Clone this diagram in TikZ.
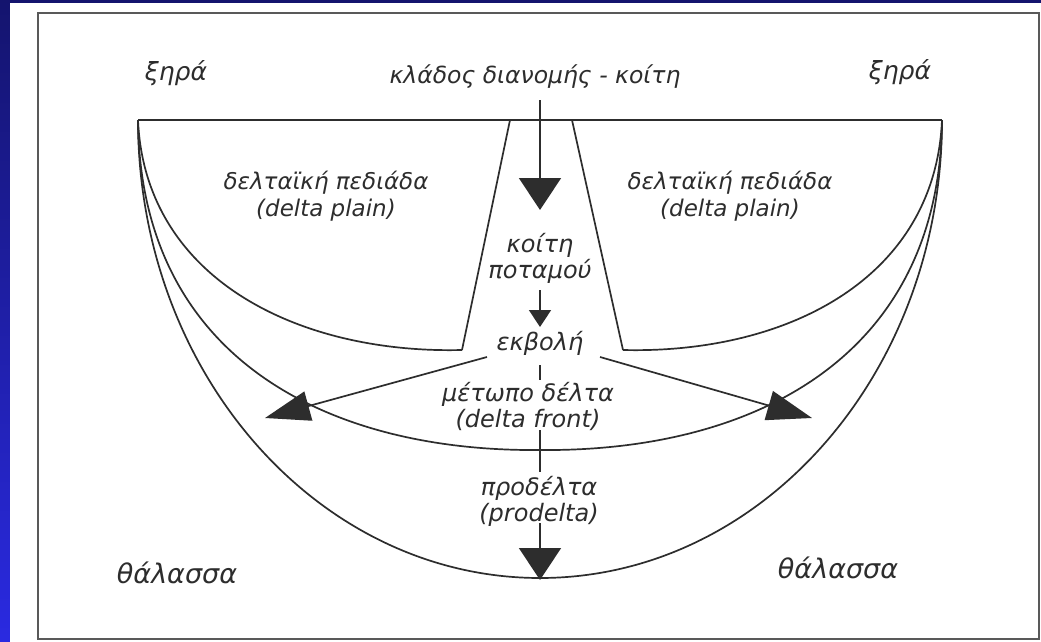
\documentclass[tikz,border=0pt]{standalone}
\usepackage{fontspec}
\setmainfont{DejaVu Sans}
\usetikzlibrary{arrows.meta}
\definecolor{navy}{RGB}{20,20,110}
\definecolor{brightblue}{RGB}{42,42,225}
\definecolor{ink}{RGB}{45,45,45}
\begin{document}
\begin{tikzpicture}[x=1pt,y=-1pt,
  lbl/.style={font=\itshape\fontsize{24}{26}\selectfont, text=ink, inner sep=0pt, align=center},
  ln/.style={draw=ink, line width=1.7pt},
  bigtip/.style={ln, -{Triangle[length=32pt,width=42pt]}},
  smalltip/.style={ln, -{Triangle[length=17pt,width=22pt]}},
  sidetip/.style={ln, -{Triangle[length=45pt,width=30pt]}}
]
\useasboundingbox (0,0) rectangle (1041,642);
% background
\shade[top color=navy, bottom color=brightblue] (0,0) rectangle (1041,642);
\fill[white] (10,3) rectangle (1041,642);
\draw[line width=2pt, draw=black!65] (38,13) rectangle (1039,639);

% coordinates of the figure
\coordinate (cl) at (138,120);
\coordinate (cr) at (942,120);
\coordinate (chl) at (510,120);
\coordinate (chr) at (572,120);
\coordinate (bl) at (462,350);
\coordinate (br) at (623,350);

% outlines
\draw[ln] (cl) -- (cr);
\draw[ln] (chl) -- (bl);
\draw[ln] (chr) -- (br);
\draw[ln] (cl) .. controls (145,280) and (300,354) .. (bl);
\draw[ln] (br) .. controls (785,354) and (935,280) .. (cr);
\draw[ln] (cl) .. controls (140,360) and (330,452) .. (540,450)
               .. controls (750,452) and (940,360) .. (cr);
\draw[ln] (cl) .. controls (138,373) and (318,578) .. (540,578)
               .. controls (762,578) and (942,373) .. (cr);

% labels
\node[lbl, font=\itshape\fontsize{25}{26}\selectfont] (xira1) at (176,73) {ξηρά};
\node[lbl, font=\itshape\fontsize{25}{26}\selectfont] (xira2) at (900,72) {ξηρά};
\node[lbl, font=\itshape\fontsize{23.5}{26}\selectfont] (top) at (535,77) {κλάδος διανομής - κοίτη};
\node[lbl, font=\itshape\fontsize{23}{27}\selectfont] (plainL) at (326,196) {δελταϊκή πεδιάδα\\(delta plain)};
\node[lbl, font=\itshape\fontsize{23}{27}\selectfont] (plainR) at (730,196) {δελταϊκή πεδιάδα\\(delta plain)};
\node[lbl] (koiti) at (540,258) {κοίτη\\ποταμού};
\node[lbl] (ekvoli) at (540,343) {εκβολή};
\node[lbl] (front) at (528,406) {μέτωπο δέλτα\\(delta front)};
\node[lbl] (prodelta) at (539,501) {προδέλτα\\(prodelta)};
\node[lbl, font=\itshape\fontsize{27}{28}\selectfont] (thal1) at (177,573) {θάλασσα};
\node[lbl, font=\itshape\fontsize{27}{28}\selectfont] (thal2) at (838,568) {θάλασσα};

% arrows
\coordinate (t1) at (540,210);
\coordinate (t2) at (540,327);
\coordinate (t3) at (540,580);
\coordinate (tl) at (265,418);
\coordinate (tr) at (812,418);
\coordinate (sl) at (487,357);
\coordinate (sr) at (600,357);
\draw[bigtip] (540,100) -- (t1);
\draw[smalltip] (540,290) -- (t2);
\draw[ln] (540,365) -- (540,380);
\draw[ln] (540,430) -- (540,472);
\draw[bigtip] (540,523) -- (t3);
\draw[sidetip] (sl) -- (tl);
\draw[sidetip] (sr) -- (tr);
\end{tikzpicture}
\end{document}
